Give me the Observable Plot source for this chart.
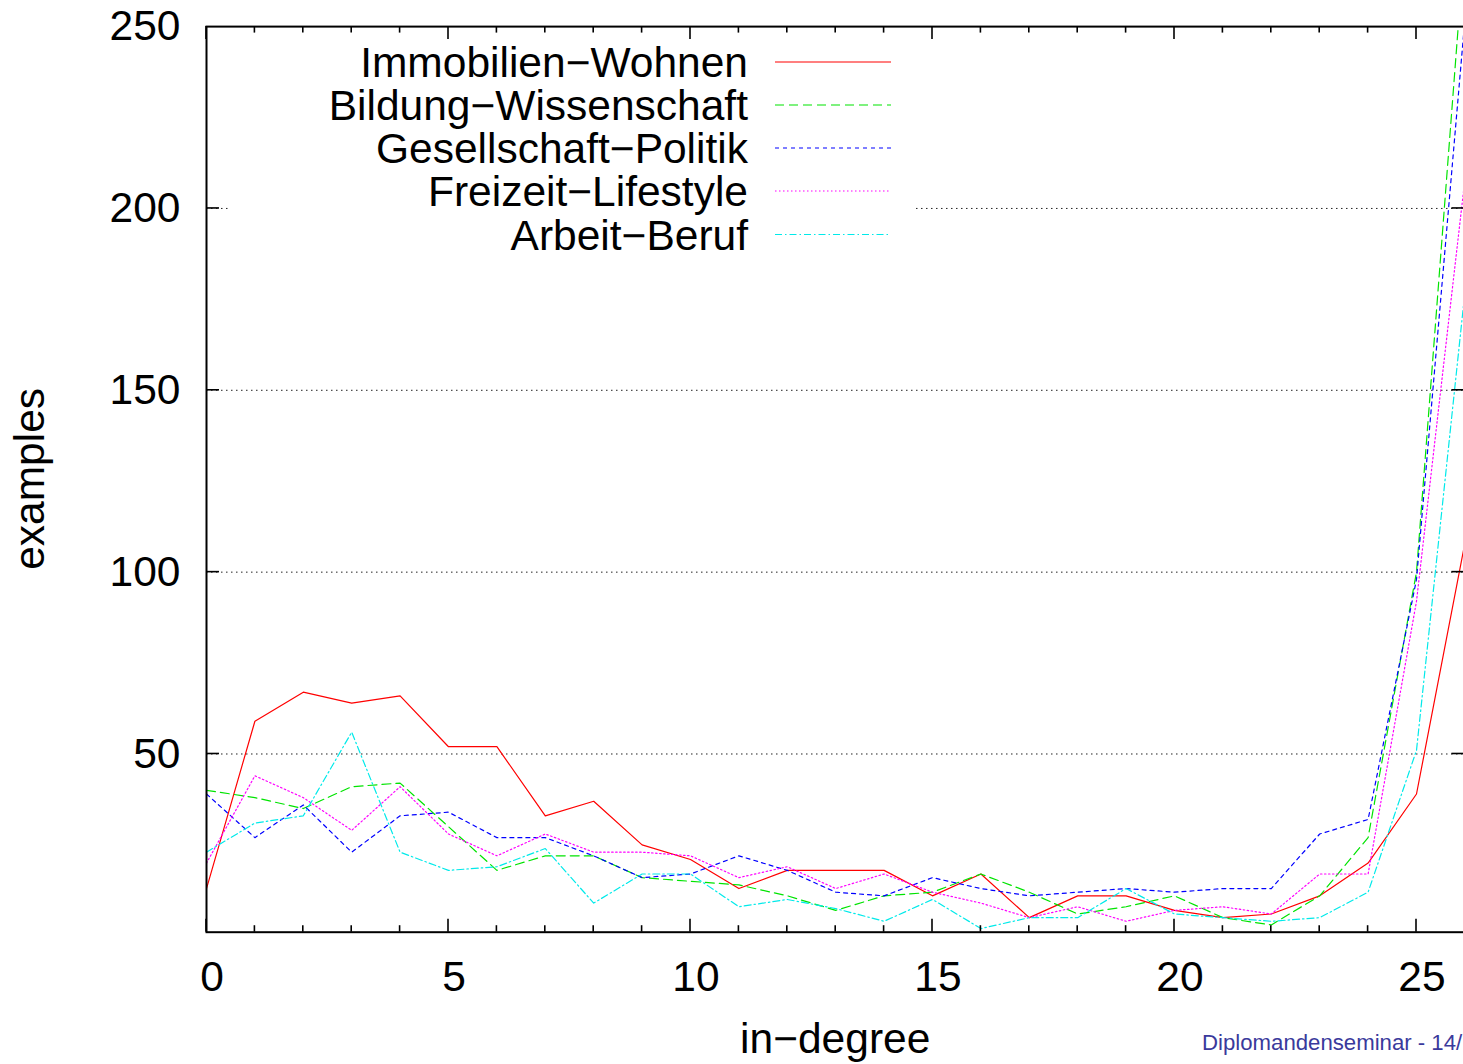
<!DOCTYPE html>
<html>
<head>
<meta charset="utf-8">
<script src="https://cdn.jsdelivr.net/npm/d3@7"></script>
<script src="https://cdn.jsdelivr.net/npm/@observablehq/plot@0.6"></script>
<style>
html, body { margin: 0; padding: 0; overflow: hidden; background: #fff; }
#chart { position: relative; width: 1463px; height: 1064px; overflow: hidden; }
#chart svg { max-width: none !important; }
</style>
</head>
<body>
<div id="chart"></div>
<script>
// ---- data ----
const inDegree = [0,1,2,3,4,5,6,7,8,9,10,11,12,13,14,15,16,17,18,19,20,21,22,23,24,25,26];
const seriesNames = ["Immobilien−Wohnen", "Bildung−Wissenschaft", "Gesellschaft−Politik", "Freizeit−Lifestyle", "Arbeit−Beruf"];
const immobilienWohnen   = [13,59,67,64,66,52,52,33,37,25,21,13,18,18,18,11,17,5,11,11,7,5,6,11,20,39,108];
const bildungWissenschaft= [40,38,35,41,42,30,18,22,22,16,15,14,11,7,11,12,17,12,6,8,11,5,3,11,27,100,274];
const gesellschaftPolitik= [39,27,36,23,33,34,27,27,22,16,17,22,18,12,11,16,13,11,12,13,12,13,13,28,32,98,252];
const freizeitLifestyle  = [20,44,38,29,41,28,22,28,23,23,22,16,19,13,17,12,9,5,8,4,7,8,6,17,17,92,208];
const arbeitBeruf        = [23,31,33,56,23,18,19,24,9,17,17,8,10,7.5,4,10,2,5,5,13,6,5,4,5,12,51,177];
const seriesValues = [immobilienWohnen, bildungWissenschaft, gesellschaftPolitik, freizeitLifestyle, arbeitBeruf];
const xTickLabels = [0,5,10,15,20,25];
const yTickLabels = [50,100,150,200,250];
const yGrid = [50,100,150,200];
const xAxisLabel = "in−degree";
const yAxisLabel = "examples";
const footerText = "Diplomandenseminar - 14/";

// ---- styles ----
const colors = ["#ff0000", "#00e400", "#0000ff", "#ff00ff", "#00eaea"];
const dashes = [null, "9,5", "4,4", "1.5,2.5", "7,3,1.5,3"];
const FONT = "'Liberation Sans', Arial, Helvetica, sans-serif";

const rows = [];
seriesNames.forEach((name, k) => {
  seriesValues[k].forEach((v, i) => rows.push({series: name, x: inDegree[i], y: v}));
});

const lineMarks = seriesNames.map((name, k) =>
  Plot.line(rows.filter(d => d.series === name), {
    x: "x", y: "y", stroke: colors[k], strokeWidth: 1.2,
    strokeDasharray: dashes[k], clip: true
  })
);

const chart = Plot.plot({
  width: 1470,
  height: 1064,
  marginLeft: 206,
  marginRight: 5.6,
  marginTop: 26.1,
  marginBottom: 132.3,
  style: {fontFamily: FONT, background: "#fff", color: "#000", maxWidth: "none"},
  x: {domain: [0, 26]},
  y: {domain: [1, 250]},
  marks: [
    Plot.ruleY(yGrid, {stroke: "#222", strokeWidth: 1, strokeDasharray: "1.5,3.5"}),
    ...lineMarks,
    Plot.frame({stroke: "#000", strokeWidth: 2}),
    Plot.axisX(xTickLabels, {tickSize: 0, tickPadding: 29, fontSize: 42.5, dx: 5.5, label: null}),
    Plot.axisY(yTickLabels, {tickSize: 0, tickPadding: 26, fontSize: 42.5, label: null})
  ]
});

document.getElementById("chart").appendChild(chart);

// ---- overlays: ticks, key, labels ----
const svg = d3.select(chart);
const X = v => chart.scale("x").apply(v);
const Y = v => chart.scale("y").apply(v);
const x0 = X(0), x1 = X(26), yb = Y(1), yt = Y(250);

// key background (hides the grid line behind the key)
svg.append("rect").attr("x", 228).attr("y", 42).attr("width", 688).attr("height", 213).attr("fill", "#fff");

const tg = svg.append("g").attr("stroke", "#000").attr("stroke-width", 1.6);
inDegree.forEach(i => {
  const len = i % 5 === 0 ? 13 : 6.5;
  const px = X(i);
  tg.append("line").attr("x1", px).attr("x2", px).attr("y1", yb).attr("y2", yb - len);
  tg.append("line").attr("x1", px).attr("x2", px).attr("y1", yt).attr("y2", yt + len);
});
yGrid.forEach(v => {
  const py = Y(v);
  tg.append("line").attr("x1", x0).attr("x2", x0 + 13).attr("y1", py).attr("y2", py);
  tg.append("line").attr("x1", x1).attr("x2", x1 - 13).attr("y1", py).attr("y2", py);
});

// key
const keyCenters = [62, 105, 148, 191, 234.5];
const kg = svg.append("g").attr("font-family", FONT).attr("font-size", 42.5);
seriesNames.forEach((name, k) => {
  const cy = keyCenters[k];
  kg.append("text").attr("x", 748).attr("y", cy + 15).attr("text-anchor", "end").attr("fill", "#000").text(name);
  const ln = kg.append("line").attr("x1", 775).attr("x2", 891).attr("y1", cy).attr("y2", cy)
    .attr("stroke", colors[k]).attr("stroke-width", 1.2);
  if (dashes[k]) ln.attr("stroke-dasharray", dashes[k]);
});

// axis titles
svg.append("text").attr("x", (x0 + x1) / 2).attr("y", 1053).attr("text-anchor", "middle")
  .attr("font-family", FONT).attr("font-size", 42.5).attr("fill", "#000").text(xAxisLabel);
svg.append("text").attr("transform", `translate(43.5,${(yb + yt) / 2}) rotate(-90)`).attr("text-anchor", "middle")
  .attr("font-family", FONT).attr("font-size", 42.5).attr("fill", "#000").text(yAxisLabel);

// footer
svg.append("text").attr("x", 1202).attr("y", 1049.5).attr("text-anchor", "start").attr("font-family", FONT).attr("font-size", 22.2)
  .attr("fill", "#3a3a9c").text(footerText);
</script>
</body>
</html>
